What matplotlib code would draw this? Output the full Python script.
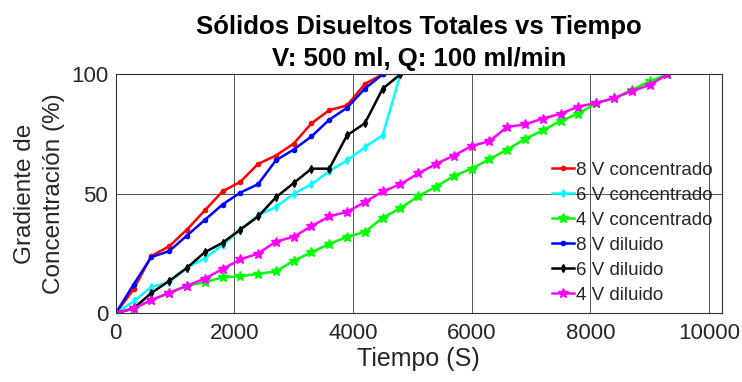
import numpy as np
import matplotlib
matplotlib.use('Agg')
import matplotlib.pyplot as plt

plt.rcParams['font.family'] = ['Liberation Sans', 'DejaVu Sans']
plt.rcParams['text.color'] = '#262626'
plt.rcParams['axes.labelcolor'] = '#262626'
plt.rcParams['xtick.color'] = '#262626'
plt.rcParams['ytick.color'] = '#262626'

# tiempos (s), muestreo cada 300 s
t_8c = np.arange(0, 4501, 300)
t_6c = np.arange(0, 4801, 300)
t_4c = np.arange(0, 9301, 300)
t_8d = np.arange(0, 4501, 300)
t_6d = np.arange(0, 4801, 300)
t_4d = np.arange(0, 9301, 300)

c_8c = [0, 10, 24, 28, 35, 43, 51, 55, 62.5, 66, 71, 79.5, 85, 87, 96, 100]
c_6c = [0, 5, 11, 13, 19, 23, 28.5, 35, 41, 44.5, 50, 54, 59.5, 64, 69.5, 74.5, 100]
c_4c = [0, 2, 5.5, 8.5, 11.5, 13, 15, 15.5, 16.5, 17.5, 22, 25.5, 29, 32, 34, 40,
        44, 49, 53, 57.5, 60.5, 64.5, 68.5, 73, 76.5, 80.5, 83.5, 88, 90, 93.5, 97, 100]
c_8d = [0, 12, 23.5, 26, 32.5, 39, 45.5, 50.5, 54, 64, 68.5, 74, 81, 86, 94, 100]
c_6d = [0, 2, 8.5, 13.5, 19, 25.5, 29.5, 35, 40.5, 48.5, 54.5, 60.5, 60.5, 74.5, 79.5, 94, 100]
c_4d = [0, 2, 5.5, 8.5, 11.5, 14.5, 18.5, 22.5, 25, 30, 32, 36.5, 40.5, 42.5, 46.5, 51,
        54, 58.5, 62.5, 66, 70, 72, 78, 79, 81.5, 83.5, 86.5, 88, 90, 93, 95.5, 100]

fig = plt.figure(figsize=(7.42, 3.82), dpi=100)
ax = fig.add_axes([0.156, 0.18, 0.817, 0.6255])

ax.plot(t_8c, c_8c, color='#ff0000', marker='.', ms=6, lw=1.8, label='8 V concentrado')
ax.plot(t_6c, c_6c, color='#00ffff', marker='d', ms=4, lw=1.8, label='6 V concentrado')
ax.plot(t_4c, c_4c, color='#00ff00', marker='*', ms=7, lw=1.8, label='4 V concentrado')
ax.plot(t_8d, c_8d, color='#0000ff', marker='.', ms=6, lw=1.8, label='8 V diluido')
ax.plot(t_6d, c_6d, color='#000000', marker='d', ms=4, lw=1.8, label='6 V diluido')
ax.plot(t_4d, c_4d, color='#ff00ff', marker='*', ms=7, lw=1.8, label='4 V diluido')

ax.set_xlim(0, 10220)
ax.set_ylim(0, 100)
ax.set_xticks([0, 2000, 4000, 6000, 8000, 10000])
ax.set_yticks([0, 50, 100])
ax.tick_params(axis='x', labelsize=16, direction='in', length=0, pad=7)
ax.tick_params(axis='y', labelsize=16, direction='in', length=0, pad=5.5)
ax.grid(True, color='#555555', lw=0.7)
ax.set_axisbelow(True)
for s in ax.spines.values():
    s.set_color('#333333')
    s.set_linewidth(0.8)

ax.set_xlabel('Tiempo (S)', fontsize=18, labelpad=2)
ax.set_ylabel('Gradiente de\nConcentración (%)', fontsize=17.5, labelpad=4, linespacing=1.45)
ax.set_title('Sólidos Disueltos Totales vs Tiempo\nV: 500 ml, Q: 100 ml/min',
             fontsize=18.5, fontweight='bold', pad=6, linespacing=1.42, color='black')

ax.legend(loc='lower right', frameon=False, fontsize=13.5, handlelength=1.2,
          handletextpad=0.1, labelspacing=0.42, borderaxespad=0.1)

fig.savefig('out.png', dpi=100)
